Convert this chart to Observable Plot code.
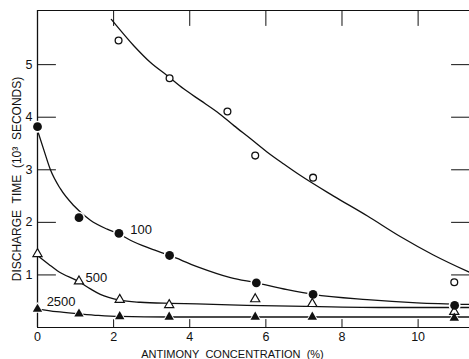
<!DOCTYPE html>
<html><head><meta charset="utf-8">
<script src="https://cdn.jsdelivr.net/npm/d3@7"></script>
<script src="https://cdn.jsdelivr.net/npm/@observablehq/plot@0.6"></script>
<style>body{margin:0;background:#fff}</style>
</head><body><div id="chart"></div>
<script>
// Axis ticks
const xTicks = [0, 2, 4, 6, 8, 10];
const yTicks = [1, 2, 3, 4, 5];
const xMax = 11.35, yMax = 6.03;

// Measured points (open circles: unlabeled top series)
const openCircleX = [2.13, 3.47, 4.99, 5.72, 7.24, 10.95];
const openCircleY = [5.46, 4.74, 4.11, 3.27, 2.85, 0.86];
// 100 (filled circles)
const dot100X = [0, 1.09, 2.14, 3.47, 5.75, 7.24, 10.96];
const dot100Y = [3.82, 2.09, 1.79, 1.37, 0.85, 0.63, 0.42];
// 500 (open triangles)
const tri500X = [0, 1.09, 2.16, 3.46, 5.72, 7.22, 10.95];
const tri500Y = [1.40, 0.88, 0.53, 0.43, 0.54, 0.45, 0.30];
// 2500 (filled triangles)
const tri2500X = [0, 1.09, 2.16, 3.46, 5.72, 7.22, 10.95];
const tri2500Y = [0.35, 0.26, 0.21, 0.20, 0.20, 0.20, 0.18];

// Fitted curves
const curveOpenX = [1.94, 2.53, 2.97, 3.41, 3.84, 4.28, 4.72, 5.16, 5.60, 6.03, 6.47, 6.91, 7.78, 8.67, 9.53, 10.4, 11.35];
const curveOpenY = [5.86, 5.36, 5.04, 4.79, 4.54, 4.32, 4.10, 3.84, 3.59, 3.34, 3.11, 2.89, 2.50, 2.12, 1.73, 1.38, 1.05];
const curve100X = [0, 0.17, 0.34, 0.6, 0.95, 1.39, 1.83, 2.14, 2.44, 2.97, 3.47, 4.19, 5.07, 5.75, 6.56, 7.24, 8.66, 9.97, 11.35];
const curve100Y = [3.75, 3.37, 3.0, 2.64, 2.32, 2.04, 1.87, 1.78, 1.66, 1.50, 1.37, 1.16, 0.95, 0.85, 0.72, 0.63, 0.53, 0.47, 0.44];
const curve500X = [0, 0.3, 0.52, 1.09, 1.4, 1.65, 2.16, 2.7, 3.5, 4.19, 5.5, 7.17, 9.5, 11.35];
const curve500Y = [1.37, 1.2, 1.08, 0.87, 0.73, 0.63, 0.52, 0.48, 0.46, 0.45, 0.42, 0.40, 0.38, 0.38];
const curve2500X = [0, 0.5, 1.09, 1.6, 2.16, 3.46, 11.35];
const curve2500Y = [0.35, 0.30, 0.26, 0.23, 0.21, 0.20, 0.20];

// Series labels
const labelText = ["100", "500", "2500"];
const labelX = [2.44, 1.26, 0.24];
const labelY = [1.86, 0.95, 0.48];

const xTitle = "ANTIMONY\u00a0\u00a0CONCENTRATION\u00a0\u00a0(%)";
const yTitle = "DISCHARGE\u00a0 TIME\u00a0 (10³\u00a0 SECONDS)";

const pts = (xs, ys) => xs.map((x, i) => ({x, y: ys[i]}));
const openC = pts(openCircleX, openCircleY);
const d100 = pts(dot100X, dot100Y);
const t500 = pts(tri500X, tri500Y);
const t2500 = pts(tri2500X, tri2500Y);
const labels = labelText.map((t, i) => ({t, x: labelX[i], y: labelY[i]}));

const ink = "#111";
const tickShape = {draw(ctx, l) { ctx.moveTo(0, 0); ctx.lineTo(0, -l); }};
const font = "'Liberation Sans', Arial, sans-serif";

const chart = Plot.plot({
  width: 469, height: 359,
  marginLeft: 37, marginRight: 0, marginTop: 10, marginBottom: 32,
  x: {domain: [0, xMax]},
  y: {domain: [0, yMax]},
  style: {fontFamily: font, fontSize: "13px", background: "white", color: ink},
  marks: [
    Plot.axisX(xTicks, {tickSize: 0, tickPadding: 5, label: null, fontSize: 12.5, tickFormat: d => String(d)}),
    Plot.axisY(yTicks, {tickSize: 0, tickPadding: 5, label: null, fontSize: 12.5, tickFormat: d => String(d)}),
    Plot.ruleX([0], {stroke: ink, strokeWidth: 1.3}),
    Plot.ruleY([0], {stroke: ink, strokeWidth: 1.1}),
    Plot.ruleY([yMax], {stroke: ink, strokeWidth: 1.1}),
    // inward tick marks
    Plot.vector(yTicks, {x: 0, y: d => d, length: 18, rotate: 90, anchor: "start", shape: tickShape, stroke: ink, strokeWidth: 1}),
    Plot.vector(yTicks, {x: xMax, y: d => d, length: 18, rotate: 270, anchor: "start", shape: tickShape, stroke: ink, strokeWidth: 1}),
    Plot.vector(xTicks, {x: d => d, y: 0, length: 8, rotate: 0, anchor: "start", shape: tickShape, stroke: ink, strokeWidth: 1}),
    Plot.vector(xTicks.slice(1), {x: d => d, y: yMax, length: 15, rotate: 180, anchor: "start", shape: tickShape, stroke: ink, strokeWidth: 1}),
    // curves
    Plot.line(pts(curveOpenX, curveOpenY), {x: "x", y: "y", curve: "monotone-x", stroke: ink, strokeWidth: 1.3}),
    Plot.line(pts(curve100X, curve100Y), {x: "x", y: "y", curve: "monotone-x", stroke: ink, strokeWidth: 1.3}),
    Plot.line(pts(curve500X, curve500Y), {x: "x", y: "y", curve: "monotone-x", stroke: ink, strokeWidth: 1.3}),
    Plot.line(pts(curve2500X, curve2500Y), {x: "x", y: "y", curve: "monotone-x", stroke: ink, strokeWidth: 1.3}),
    // halos
    Plot.dot(d100, {x: "x", y: "y", r: 6, fill: "white"}),
    Plot.dot(t2500, {x: "x", y: "y", r: 4.6, symbol: "triangle", fill: "white"}),
    // markers
    Plot.dot(openC, {x: "x", y: "y", r: 3.4, fill: "white", stroke: ink, strokeWidth: 1.3}),
    Plot.dot(t500, {x: "x", y: "y", r: 3.4, symbol: "triangle", fill: "white", stroke: ink, strokeWidth: 1.2}),
    Plot.dot(t2500, {x: "x", y: "y", r: 3.5, symbol: "triangle", fill: ink}),
    Plot.dot(d100, {x: "x", y: "y", r: 4.4, fill: ink}),
    // series labels
    Plot.text(labels, {x: "x", y: "y", text: "t", textAnchor: "start", fontSize: 13, fill: ink}),
    // titles
    Plot.text([xTitle], {frameAnchor: "bottom", textAnchor: "middle", lineAnchor: "middle", dx: -21, dy: 27, fontSize: 11, fill: ink, letterSpacing: "0.6px"}),
    Plot.text([yTitle], {frameAnchor: "left", textAnchor: "middle", lineAnchor: "middle", rotate: -90, dx: -20, dy: 10, fontSize: 12, fill: ink, letterSpacing: "1.8px"})
  ]
});
document.getElementById("chart").appendChild(chart);
</script>
</body></html>
